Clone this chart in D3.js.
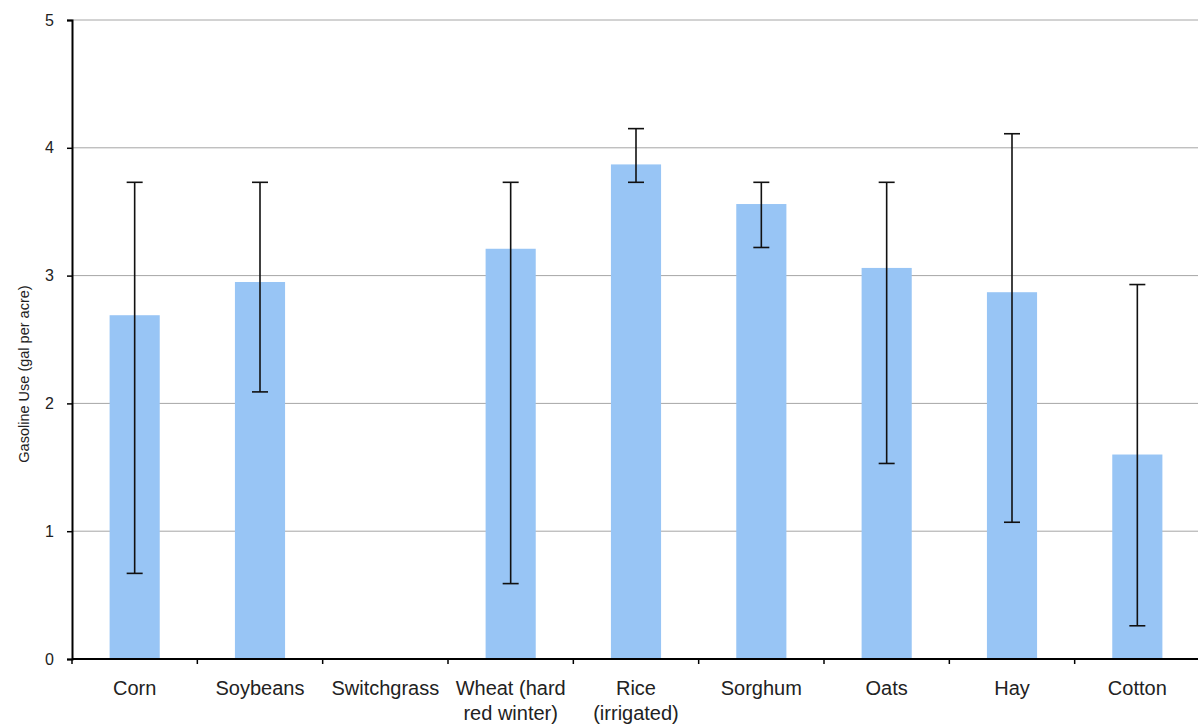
<!DOCTYPE html>
<html><head><meta charset="utf-8">
<script src="https://cdn.jsdelivr.net/npm/d3@7"></script>
<style>body{margin:0;background:#fff}svg{display:block}</style>
</head><body><svg id="c" width="1198" height="725"></svg>
<script>
const categories = ["Corn","Soybeans","Switchgrass","Wheat (hard|red winter)","Rice|(irrigated)","Sorghum","Oats","Hay","Cotton"];
const values = [2.69, 2.95, null, 3.21, 3.87, 3.56, 3.06, 2.87, 1.60];
const errLow = [0.67, 2.09, null, 0.59, 3.73, 3.22, 1.53, 1.07, 0.26];
const errHigh = [3.73, 3.73, null, 3.73, 4.15, 3.73, 3.73, 4.11, 2.93];
const yTicks = [0,1,2,3,4,5];
const yLabel = "Gasoline Use (gal per acre)";

const svg = d3.select("#c");
const m = {left:72, top:20, right:-2, bottom:66};
const W = 1198, H = 725;
const FONT = "Liberation Sans, Arial, sans-serif";
const x = d3.scaleBand().domain(categories).range([m.left, W - m.right]).paddingInner(0.6).paddingOuter(0.3);
const y = d3.scaleLinear().domain([0,5]).range([H - m.bottom, m.top]);

// gridlines
svg.append("g").selectAll("line").data(yTicks.filter(d=>d>0)).join("line")
  .attr("x1", m.left).attr("x2", W - m.right)
  .attr("y1", d=>y(d)).attr("y2", d=>y(d))
  .attr("stroke", "#a6a6a6").attr("stroke-width", 1);

// bars
const idx = d3.range(categories.length).filter(i => values[i] != null);
svg.append("g").selectAll("rect").data(idx).join("rect")
  .attr("x", i => x(categories[i])).attr("width", x.bandwidth())
  .attr("y", i => y(values[i])).attr("height", i => y(0) - y(values[i]))
  .attr("fill", "#98c5f5");

// error bars
const eg = svg.append("g").attr("stroke", "#111").attr("stroke-width", 1.6);
idx.forEach(i => {
  const cx = x(categories[i]) + x.bandwidth()/2;
  eg.append("line").attr("x1", cx).attr("x2", cx).attr("y1", y(errLow[i])).attr("y2", y(errHigh[i]));
  [errLow[i], errHigh[i]].forEach(v => {
    eg.append("line").attr("x1", cx-8).attr("x2", cx+8).attr("y1", y(v)).attr("y2", y(v));
  });
});

// y axis
const ya = svg.append("g").attr("transform", `translate(${m.left},0)`)
  .call(d3.axisLeft(y).tickValues(yTicks).tickFormat(d3.format("d")).tickSize(5).tickPadding(13));
ya.select(".domain").attr("stroke", "#000").attr("stroke-width", 2);
ya.selectAll(".tick line").attr("stroke", "#000").attr("stroke-width", 1.5);
ya.selectAll("text").attr("font-family", FONT).attr("font-size", 16).attr("fill", "#222");

// x axis
const xa = svg.append("g").attr("transform", `translate(0,${y(0)})`);
xa.append("line").attr("x1", m.left).attr("x2", W - m.right).attr("stroke", "#000").attr("stroke-width", 2);
const step = x.step();
const bounds = d3.range(categories.length + 1).map(k => m.left + k*step);
xa.selectAll("line.t").data(bounds).join("line").attr("class","t")
  .attr("x1", d=>d).attr("x2", d=>d).attr("y1", 0).attr("y2", 5)
  .attr("stroke", "#000").attr("stroke-width", 1.5);
const lab = xa.selectAll("text").data(categories).join("text")
  .attr("text-anchor", "middle")
  .attr("font-family", FONT).attr("font-size", 20).attr("fill", "#222");
lab.each(function(d){
  const t = d3.select(this);
  const cx = x(d) + x.bandwidth()/2;
  d.split("|").forEach((s, k) => {
    t.append("tspan").attr("x", cx).attr("y", 36 + k*25).text(s);
  });
});

// y label
svg.append("text")
  .attr("transform", `translate(29,374) rotate(-90)`)
  .attr("text-anchor", "middle")
  .attr("font-family", FONT).attr("font-size", 14.5).attr("fill", "#222")
  .text(yLabel);
</script></body></html>
